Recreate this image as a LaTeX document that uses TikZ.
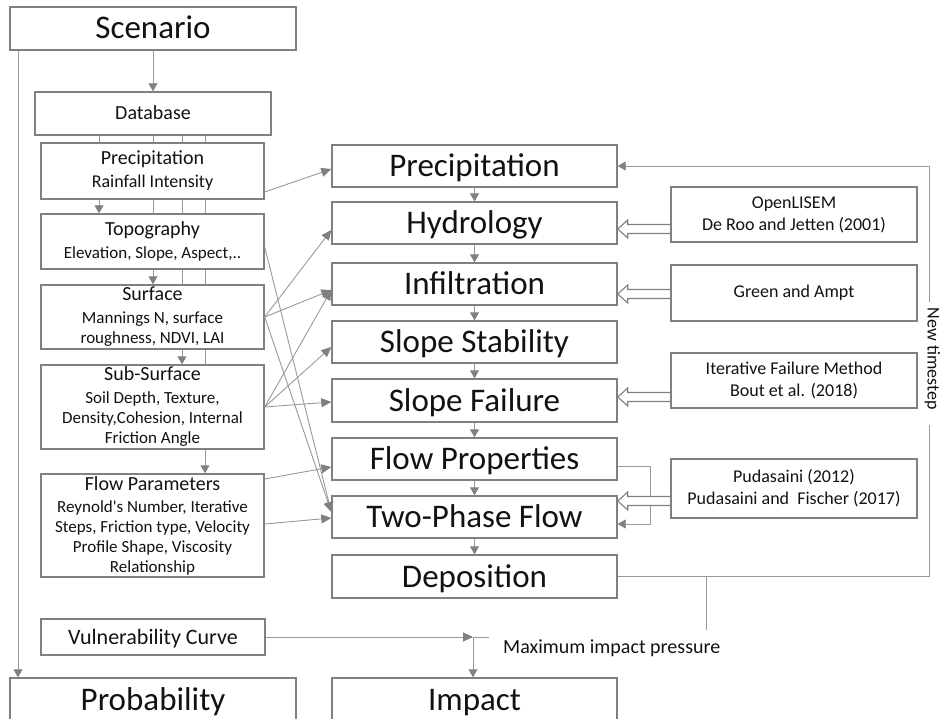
\documentclass[tikz,border=0pt]{standalone}
\usepackage{fontspec}
\setmainfont{Carlito}[Ligatures=TeXOff]
\usetikzlibrary{arrows.meta,calc,backgrounds}

\definecolor{boxline}{gray}{0.50}
\definecolor{connline}{gray}{0.60}
\definecolor{tipcol}{gray}{0.50}
\definecolor{ink}{gray}{0.07}

\newcommand\boxtitle[1]{{\fontsize{20}{23}\selectfont #1}}

\tikzset{
  box/.style={draw=boxline, line width=1.4pt, fill=white, inner sep=0pt, text=ink},
  bigbox/.style={box, font=\fontsize{33}{36}\selectfont, text height=21pt, text depth=0pt},
  midbox/.style={box, font=\fontsize{20}{23}\selectfont, text height=13pt, text depth=0pt},
  leftbox/.style={box, align=center, minimum width=223pt, font=\fontsize{17}{20}\selectfont},
  refbox/.style={box, align=center, minimum width=246pt, font=\fontsize{18}{22}\selectfont},
  conn/.style={draw=connline, line width=0.9pt, -{Triangle[length=10pt,width=9pt,color=tipcol,fill=tipcol]}},
  chain/.style={draw=connline, line width=0.9pt, -{Triangle[length=8pt,width=9pt,color=tipcol,fill=tipcol]}},
  plainline/.style={draw=connline, line width=0.9pt},
  hollow/.style={draw=boxline, line width=1.1pt, fill=white, line join=miter},
  lbl/.style={text=ink, inner sep=0pt, font=\fontsize{20}{23}\selectfont},
}

% open block arrow from a reference box (#1) to a model box (#2) at height #3
\newcommand\hollowarrow[3]{%
  \filldraw[hollow] ($(#1.west |- 0,#3)+(0,-4.5)$) -- ($(#2.east |- 0,#3)+(10,-4.5)$)
    -- ++(0,-4.5) -- (#2.east |- 0,#3) -- ++(10,9) -- ++(0,-4.5)
    -- ($(#1.west |- 0,#3)+(0,4.5)$);}

\begin{document}
\begin{tikzpicture}[x=1pt, y=-1pt]
\useasboundingbox (0,0) rectangle (941,719);

% ---------- input column ----------
\node[bigbox, minimum width=286pt, minimum height=43pt] (scen) at (153,28.5) {Scenario};
\node[midbox, minimum width=236pt, minimum height=43pt] (db) at (153,113.5) {Database};
\node[leftbox, minimum height=56pt] (precL) at (152.5,171) {\boxtitle{Precipitation}\\[3pt]{\fontsize{18}{20}\selectfont Rainfall Intensity}};
\node[leftbox, minimum height=55pt] (topo) at (152.5,241.5) {\boxtitle{Topography}\\[3pt]Elevation, Slope, Aspect,..};
\node[leftbox, minimum height=64pt] (surf) at (152.5,317) {\boxtitle{Surface}\\[3pt]Mannings N, surface\\roughness, NDVI, LAI};
\node[leftbox, minimum height=84pt] (sub) at (152.5,407) {\boxtitle{Sub-Surface}\\[3pt]Soil Depth, Texture,\\Density,Cohesion, Internal\\Friction Angle};
\node[leftbox, minimum height=103pt] (fpar) at (152.5,525.5) {\boxtitle{Flow Parameters}\\[2pt]Reynold's Number, Iterative\\Steps, Friction type, Velocity\\Profile Shape, Viscosity\\Relationship};
\node[midbox, font=\fontsize{22}{25}\selectfont, text height=14pt, minimum width=224pt, minimum height=36pt] (vuln) at (153,637) {Vulnerability Curve};
\node[bigbox, minimum width=286pt, minimum height=44pt] (prob) at (153,700) {Probability};

% ---------- model chain ----------
\node[bigbox, minimum width=285pt, minimum height=42pt] (precM) at (474.5,166) {Precipitation};
\node[bigbox, minimum width=285pt, minimum height=42pt] (hydro) at (474.5,223) {Hydrology};
\node[bigbox, minimum width=285pt, minimum height=42pt] (infil) at (474.5,284) {Infiltration};
\node[bigbox, minimum width=285pt, minimum height=42pt] (stab) at (474.5,342) {Slope Stability};
\node[bigbox, minimum width=285pt, minimum height=43pt] (fail) at (474.5,400.5) {Slope Failure};
\node[bigbox, minimum width=285pt, minimum height=42pt] (fprop) at (474.5,459) {Flow Properties};
\node[bigbox, minimum width=285pt, minimum height=42pt] (twop) at (474.5,517) {Two-Phase Flow};
\node[bigbox, minimum width=285pt, minimum height=43pt] (depo) at (474.5,576.5) {Deposition};
\node[bigbox, minimum width=285pt, minimum height=44pt] (impact) at (474.5,700) {Impact};

% ---------- reference boxes ----------
\node[refbox, minimum height=55pt] (olis) at (794,214.5) {OpenLISEM\\De Roo and Jetten (2001)};
\node[refbox, minimum height=56pt] (green) at (794,293) {Green and Ampt};
\node[refbox, minimum height=55pt] (iter) at (794,380.5) {Iterative Failure Method\\Bout et al. (2018)};
\node[refbox, minimum height=59pt] (puda) at (794,488.5) {Pudasaini (2012)\\Pudasaini and~ Fischer (2017)};

% ---------- labels and free ends ----------
\node[lbl, anchor=base west] (mip) at (503,653) {Maximum impact pressure};
\node[lbl, font=\fontsize{18}{21}\selectfont, rotate=-90, anchor=base] (newts) at (927.5,358.5) {New timestep};
\coordinate (gapHi) at (929,302);
\coordinate (gapLo) at (929,425);
\coordinate (vulnEnd) at (473,637);
\coordinate (vulnTick) at (489,637);
\coordinate (depoTapEnd) at (706,630);
\coordinate (fpropTurn) at (650,466);

% ---------- lines behind the boxes ----------
\begin{scope}[on background layer]
  \draw[chain] (db.south -| 99,0) -- (topo.north -| 99,0);
  \draw[chain] (db.south -| 153,0) -- (surf.north -| 153,0);
  \draw[chain] (db.south -| 182,0) -- (sub.north -| 182,0);
  \draw[chain] (db.south -| 205,0) -- (fpar.north -| 205,0);
  % side path from flow properties to two-phase flow
  \draw[chain] (fprop.east |- fpropTurn) -- (fpropTurn) |- (twop.east |- 0,524);
  % reference models feeding the chain
  \hollowarrow{olis}{hydro}{229}
  \hollowarrow{green}{infil}{294}
  \hollowarrow{iter}{fail}{397}
  \hollowarrow{puda}{twop}{501}
\end{scope}

% ---------- vertical flow ----------
\draw[chain] (scen.south) -- (db.north);
\draw[chain] (scen.south -| 18,0) -- (prob.north -| 18,0);
\draw[chain] (precM.south) -- (hydro.north);
\draw[chain] (hydro.south) -- (infil.north);
\draw[chain] (infil.south) -- (stab.north);
\draw[chain] (stab.south) -- (fail.north);
\draw[chain] (fail.south) -- (fprop.north);
\draw[chain] (fprop.south) -- (twop.north);
\draw[chain] (twop.south) -- (depo.north);

% ---------- inputs to the model chain ----------
\draw[conn] (precL.east |- 0,192) -- (precM.west |- 0,169);
\draw[conn] (topo.east |- 0,247) -- (twop.west |- 0,512);
\draw[conn] (surf.east |- 0,317) -- (hydro.west |- 0,230);
\draw[conn] (surf.east |- 0,317) -- (infil.west |- 0,290);
\draw[conn] (surf.east |- 0,317) -- (twop.west |- 0,512);
\draw[conn] (sub.east |- 0,407) -- (infil.west |- 0,290);
\draw[conn] (sub.east |- 0,407) -- (stab.west |- 0,347);
\draw[conn] (sub.east |- 0,407) -- (fail.west |- 0,402);
\draw[conn] (fpar.east |- 0,479) -- (fprop.west |- 0,467);
\draw[conn] (fpar.east |- 0,524) -- (twop.west |- 0,518);

% ---------- time loop ----------
\draw[plainline] (depo.east) -| (gapLo);
\draw[chain] (gapHi) |- (precM.east);
\draw[plainline] (depo.east -| depoTapEnd) -- (depoTapEnd);

% ---------- impact ----------
\draw[conn] (vuln.east) -- (vulnEnd);
\draw[plainline] (vulnEnd) -- (vulnTick);
\draw[chain] (vulnEnd) -- (impact.north -| vulnEnd);

\end{tikzpicture}
\end{document}
